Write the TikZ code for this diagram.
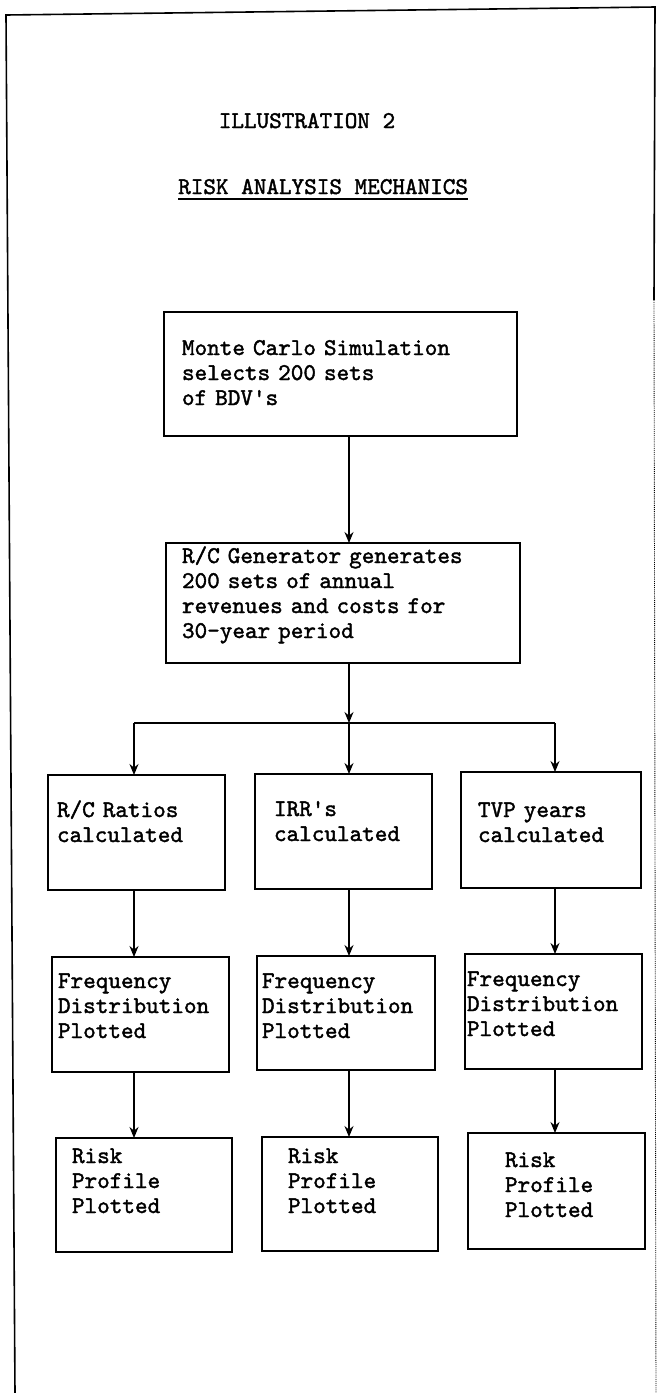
\documentclass[tikz,border=0pt]{standalone}
\usepackage{fontspec}
\newfontfamily\typer{lmmono10-regular}[Extension=.otf, FakeBold=1.6]
\usetikzlibrary{arrows.meta}
\tikzset{
  box/.style={draw, line width=1.4pt, anchor=north west, inner ysep=0pt, outer sep=0pt,
    align=left, font=\typer\fontsize{24}{25}\selectfont},
  heading/.style={inner sep=0pt, font=\typer\fontsize{24}{25}\selectfont},
  link/.style={line width=1.6pt, -{Stealth[length=11pt,width=9pt]}},
  frame/.style={line width=1.6pt}
}
\begin{document}
\begin{tikzpicture}[x=1pt,y=-1pt]
      \useasboundingbox (0,0) rectangle (658,1393);
      \draw[frame] (15,1393) -- (6,15) -- (655,7) -- (654,300);
      \draw[frame, line width=0.9pt, densely dotted] (654,300) -- (656,1393);
      \node[heading, anchor=base] (head) at (307,128) {ILLUSTRATION 2};
      \node[heading, anchor=base west] (subhead) at (178,194) {RISK ANALYSIS MECHANICS};
      \draw[line width=1.3pt] ([yshift=-5pt]subhead.base west) -- ([yshift=-5pt]subhead.base east);
      \node[box, text width=317pt, inner xsep=18pt, text height=43pt, text depth=81pt] (sim) at (164,312)
        {Monte Carlo Simulation\\selects 200 sets\\of BDV's};
      \node[box, text width=322pt, inner xsep=16pt, text height=20pt, text depth=100pt] (gen) at (166,543)
        {R/C Generator generates\\200 sets of annual\\revenues and costs for\\30-year period};
      \node[box, text width=159pt, inner xsep=9pt, text height=42pt, text depth=73pt] (ratio) at (48,775)
        {R/C Ratios\\calculated};
      \node[box, text width=139pt, inner xsep=19pt, text height=42pt, text depth=73pt] (irr) at (255,774)
        {IRR's\\calculated};
      \node[box, text width=146pt, inner xsep=17pt, text height=45pt, text depth=71pt] (tvp) at (461,772)
        {TVP years\\calculated};
      \node[box, text width=165pt, inner xsep=6pt, text height=31pt, text depth=84pt] (freqa) at (52,957)
        {Frequency\\Distribution\\Plotted};
      \node[box, text width=168pt, inner xsep=5pt, text height=32pt, text depth=82pt] (freqb) at (257,956)
        {Frequency\\Distribution\\Plotted};
      \node[box, text width=173pt, inner xsep=2pt, text height=32pt, text depth=83pt] (freqc) at (465,954)
        {Frequency\\Distribution\\Plotted};
      \node[box, text width=144pt, inner xsep=16pt, text height=25pt, text depth=89pt] (riska) at (56,1138)
        {Risk\\Profile\\Plotted};
      \node[box, text width=124pt, inner xsep=26pt, text height=26pt, text depth=88pt] (riskb) at (262,1137)
        {Risk\\Profile\\Plotted};
      \node[box, text width=103pt, inner xsep=37pt, text height=34pt, text depth=82pt] (riskc) at (468,1133)
        {Risk\\Profile\\Plotted};
      \coordinate (ca) at (134,723);
      \coordinate (split) at (349,723);
      \coordinate (cc) at (555,723);
      \draw[link] (sim.south -| split) -- (gen.north -| split);
      \draw[link] (gen.south -| split) -- (split);
      \draw[line width=1.6pt] (ca) -- (cc);
      \draw[link] (ca) -- (ca |- ratio.north);
      \draw[link] (split) -- (split |- irr.north);
      \draw[link] (cc) -- (cc |- tvp.north);
      \draw[link] (ratio.south -| ca) -- (freqa.north -| ca);
      \draw[link] (irr.south -| split) -- (freqb.north -| split);
      \draw[link] (tvp.south -| cc) -- (freqc.north -| cc);
      \draw[link] (freqa.south -| ca) -- (riska.north -| ca);
      \draw[link] (freqb.south -| split) -- (riskb.north -| split);
      \draw[link] (freqc.south -| cc) -- (riskc.north -| cc);
\end{tikzpicture}
\end{document}
